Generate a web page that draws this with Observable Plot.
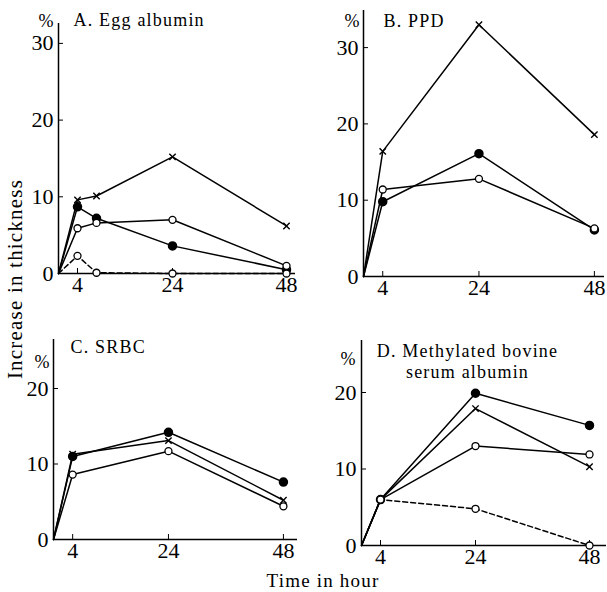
<!DOCTYPE html>
<html><head><meta charset="utf-8">
<script src="https://cdn.jsdelivr.net/npm/d3@7"></script>
<script src="https://cdn.jsdelivr.net/npm/@observablehq/plot@0.6"></script>
<style>
body{margin:0;background:#fff;}
#wrap{position:relative;width:607px;height:592px;font-family:'Liberation Serif','Times New Roman',Times,serif;color:#000;overflow:hidden;}
.panel{position:absolute;}
.panel text{font-family:'Liberation Serif','Times New Roman',Times,serif !important;}
.lab{position:absolute;white-space:nowrap;letter-spacing:1.2px;}
</style></head><body>
<div id="wrap"></div>
<script>
// ---- Panel A: Egg albumin ----
const hoursA = [0, 4, 8, 24, 48];
const eggCross = [0, 9.6, 10.1, 15.2, 6.2];
const eggFilled = [0, 8.7, 7.2, 3.6, 0.5];
const eggOpen = [0, 5.9, 6.6, 7.0, 1.0];
const eggOpenDashed = [0, 2.3, 0.1, 0, 0];
// ---- Panel B: PPD ----
const hoursB = [0, 4, 24, 48];
const ppdCross = [0, 16.4, 33.0, 18.6];
const ppdFilled = [0, 9.8, 16.1, 6.1];
const ppdOpen = [0, 11.4, 12.8, 6.3];
// ---- Panel C: SRBC ----
const hoursC = [0, 4, 24, 48];
const srbcFilled = [0, 11.0, 14.2, 7.6];
const srbcCross = [0, 11.3, 13.1, 5.2];
const srbcOpen = [0, 8.6, 11.7, 4.4];
// ---- Panel D: Methylated bovine serum albumin ----
const hoursD = [0, 4, 24, 48];
const mbsaFilled = [0, 6.0, 19.9, 15.7];
const mbsaCross = [0, 6.0, 17.9, 10.3];
const mbsaOpen = [0, 6.0, 13.0, 11.9];
const mbsaOpenDashed = [0, 6.0, 4.8, 0];

const ticksAB = [0, 10, 20, 30];
const ticksCD = [0, 10, 20];
const xTicks = [4, 24, 48];
const titleA = "A. Egg albumin";
const titleB = "B. PPD";
const titleC = "C. SRBC";
const titleD = "D. Methylated bovine\nserum albumin";
const yTitle = "Increase in thickness";
const xTitle = "Time in hour";

const FONT = "'Liberation Serif','Times New Roman',Times,serif";
const wrap = document.getElementById("wrap");

function panel(cfg) {
  const {left, top, width, height, x0, xEnd, hourPx, y0, yTop, unitPx, yTicks, times, series, title, titleDx, titleDy, titleAnchor, pctDx, pctDy} = cfg;
  const marks = [
    Plot.ruleX([0], {stroke: "black", strokeWidth: 1.5}),
    Plot.ruleY([0], {stroke: "black", strokeWidth: 1.5}),
    Plot.axisY({ticks: yTicks, tickSize: -5, tickPadding: 10, tickFormat: d => d, label: null, fontFamily: FONT}),
    Plot.axisX({ticks: xTicks, tickSize: -5, tickPadding: 8, tickFormat: d => d, label: null, fontFamily: FONT})
  ];
  for (const s of series) {
    const rows = times.map((t, i) => ({t, v: s.values[i]}));
    marks.push(Plot.line(rows, {x: "t", y: "v", stroke: "black", strokeWidth: 1.5, strokeDasharray: s.dashed ? "5,3" : null}));
    const pts = rows.filter(d => d.t > 0);
    if (s.marker === "filled") marks.push(Plot.dot(pts, {x: "t", y: "v", r: 4, fill: "black", stroke: "black"}));
    else if (s.marker === "open") marks.push(Plot.dot(pts, {x: "t", y: "v", r: 3.5, fill: "white", stroke: "black", strokeWidth: 1.3}));
    else marks.push(Plot.dot(pts, {x: "t", y: "v", r: 3, symbol: "times", stroke: "black", strokeWidth: 1.4}));
  }
  marks.push(Plot.text([title], {frameAnchor: "top-left", dx: titleDx, dy: titleDy, textAnchor: titleAnchor || "start", lineAnchor: "middle", fontSize: 18, lineHeight: 1.2, fontFamily: FONT}));
  marks.push(Plot.text(["%"], {frameAnchor: "top-left", dx: pctDx, dy: pctDy, textAnchor: "middle", lineAnchor: "middle", fontSize: 18, fontFamily: FONT}));
  const chart = Plot.plot({
    width, height,
    marginLeft: x0, marginRight: width - xEnd,
    marginTop: yTop, marginBottom: height - y0,
    x: {domain: [0, (xEnd - x0) / hourPx]},
    y: {domain: [0, (y0 - yTop) / unitPx]},
    style: {fontFamily: FONT, fontSize: "22px", color: "black", background: "transparent", overflow: "visible"},
    marks
  });
  d3.select(chart).selectAll('g[aria-label="text"] text').style("letter-spacing", "1.2px");
  chart.classList.add("panel");
  chart.style.left = left + "px";
  chart.style.top = top + "px";
  wrap.appendChild(chart);
}

panel({left: 0, top: 0, width: 303, height: 296, x0: 58, xEnd: 295, hourPx: 4.75, y0: 273, yTop: 23, unitPx: 7.67,
  yTicks: ticksAB, times: hoursA, title: titleA, titleDx: 15, titleDy: -4, pctDx: -12, pctDy: -2,
  series: [
    {values: eggCross, marker: "cross"},
    {values: eggFilled, marker: "filled"},
    {values: eggOpen, marker: "open"},
    {values: eggOpenDashed, marker: "open", dashed: true}
  ]});
panel({left: 303, top: 0, width: 304, height: 296, x0: 60, xEnd: 301, hourPx: 4.81, y0: 276, yTop: 10, unitPx: 7.63,
  yTicks: ticksAB, times: hoursB, title: titleB, titleDx: 20, titleDy: 10, pctDx: -11, pctDy: 11,
  series: [
    {values: ppdCross, marker: "cross"},
    {values: ppdFilled, marker: "filled"},
    {values: ppdOpen, marker: "open"}
  ]});
panel({left: 0, top: 296, width: 303, height: 296, x0: 53, xEnd: 297, hourPx: 4.79, y0: 243, yTop: 43, unitPx: 7.55,
  yTicks: ticksCD, times: hoursC, title: titleC, titleDx: 17, titleDy: 7, pctDx: -11, pctDy: 23,
  series: [
    {values: srbcFilled, marker: "filled"},
    {values: srbcCross, marker: "cross"},
    {values: srbcOpen, marker: "open"}
  ]});
panel({left: 303, top: 296, width: 304, height: 296, x0: 58, xEnd: 303, hourPx: 4.75, y0: 249, yTop: 44, unitPx: 7.65,
  yTicks: ticksCD, times: hoursD, title: titleD, titleDx: 106, titleDy: 20, titleAnchor: "middle", pctDx: -13, pctDy: 19,
  series: [
    {values: mbsaFilled, marker: "filled"},
    {values: mbsaCross, marker: "cross"},
    {values: mbsaOpen, marker: "open"},
    {values: mbsaOpenDashed, marker: "open", dashed: true}
  ]});

const yl = document.createElement("div");
yl.className = "lab";
yl.textContent = yTitle;
Object.assign(yl.style, {left: "15px", top: "279px", transform: "translate(-50%,-50%) rotate(-90deg)", fontSize: "21px"});
wrap.appendChild(yl);
const xl = document.createElement("div");
xl.className = "lab";
xl.textContent = xTitle;
Object.assign(xl.style, {left: "323px", top: "581px", transform: "translate(-50%,-50%)", fontSize: "19px"});
wrap.appendChild(xl);
</script>
</body></html>
